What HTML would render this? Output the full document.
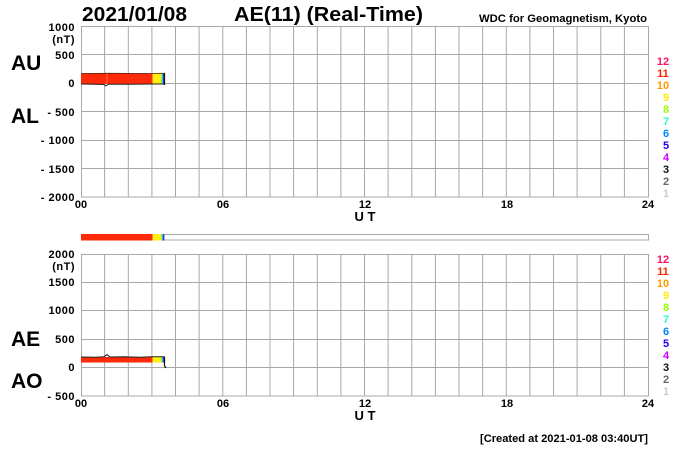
<!DOCTYPE html>
<html><head><meta charset="utf-8"><style>
html,body{margin:0;padding:0;background:#fff;}
svg{display:block;}
text{font-family:"Liberation Sans",Arial,sans-serif;}
</style></head><body>
<svg width="700" height="450" viewBox="0 0 700 450" xmlns="http://www.w3.org/2000/svg">
<rect width="700" height="450" fill="#fff"/>
<!-- Titles -->
<text x="82" y="21" font-size="20" font-weight="bold" textLength="105" lengthAdjust="spacingAndGlyphs">2021/01/08</text>
<text x="234" y="21" font-size="20" font-weight="bold" textLength="189" lengthAdjust="spacingAndGlyphs">AE(11) (Real-Time)</text>
<text x="479" y="22" font-size="11" font-weight="bold" textLength="168" lengthAdjust="spacingAndGlyphs">WDC for Geomagnetism, Kyoto</text>

<!-- TOP CHART grid -->
<g stroke="#a8a8a8" stroke-width="1" fill="none">
<path d="M104.6 26V197M128.3 26V197M151.9 26V197M175.5 26V197M199.1 26V197M222.8 26V197M246.4 26V197M270 26V197M293.6 26V197M317.3 26V197M340.9 26V197M364.5 26V197M388.1 26V197M411.8 26V197M435.4 26V197M459 26V197M482.6 26V197M506.3 26V197M529.9 26V197M553.5 26V197M577.1 26V197M600.8 26V197M624.4 26V197"/>
<path d="M81 54.5H648M81 83.5H648M81 111.5H648M81 140.5H648M81 168.5H648"/>
<rect x="81.5" y="26.5" width="567" height="170.5"/>
</g>
<!-- top data -->
<rect x="81" y="73.5" width="71.5" height="10.5" fill="#ff2a0a"/>
<rect x="152.5" y="73.5" width="9" height="10.5" fill="#ffee11"/>
<rect x="161.5" y="73.5" width="1.3" height="10.5" fill="#22ddaa"/>
<rect x="162.8" y="73.5" width="1.4" height="10.5" fill="#1144ee"/>
<path d="M81 84 L95 84.3 L104 84.5 L106 86 L108 84.3 L130 84.3 L152 84 L164 84" stroke="#222" stroke-width="1" fill="none"/>
<path d="M81 73.5 L110 73.3 L152 73.5 L164 73.3" stroke="#552211" stroke-width="0.8" fill="none"/>
<path d="M164.5 73 V85" stroke="#111" stroke-width="1.2"/>
<line x1="107" y1="74" x2="107" y2="84" stroke="#ff8844" stroke-width="0.8"/>

<!-- top y labels -->
<g font-size="11" font-weight="bold" text-anchor="end" fill="#000" letter-spacing="0.5">
<text x="75" y="31">1000</text>
<text x="75" y="43">(nT)</text>
<text x="75" y="59">500</text>
<text x="75" y="87">0</text>
<text x="75" y="116">- 500</text>
<text x="75" y="144">- 1000</text>
<text x="75" y="173">- 1500</text>
<text x="75" y="201">- 2000</text>
</g>
<g font-size="21" font-weight="bold" fill="#000">
<text x="11" y="70">AU</text>
<text x="11" y="123">AL</text>
</g>
<!-- top x labels -->
<g font-size="11" font-weight="bold" text-anchor="middle" fill="#000">
<text x="81" y="208">00</text>
<text x="223" y="208">06</text>
<text x="365" y="208">12</text>
<text x="507" y="208">18</text>
<text x="648" y="208">24</text>
<text x="365" y="221" font-size="13">U T</text>
</g>
<!-- top legend -->
<g font-size="11" font-weight="bold" text-anchor="middle">
<text x="663" y="65" fill="#ff1166">12</text>
<text x="663" y="77" fill="#ff2200">11</text>
<text x="663" y="89" fill="#ff9900">10</text>
<text x="666" y="101" fill="#ffee00">9</text>
<text x="666" y="113" fill="#99ff00">8</text>
<text x="666" y="125" fill="#22ffcc">7</text>
<text x="666" y="137" fill="#0088ff">6</text>
<text x="666" y="149" fill="#2200ee">5</text>
<text x="666" y="161" fill="#cc00ff">4</text>
<text x="666" y="173" fill="#111">3</text>
<text x="666" y="185" fill="#666">2</text>
<text x="666" y="197" fill="#ccc">1</text>
</g>

<!-- strip -->
<rect x="81.5" y="234.5" width="567" height="5.5" fill="#fff" stroke="#a8a8a8" stroke-width="1"/>
<rect x="81" y="234" width="71.5" height="6.5" fill="#ff2a0a"/>
<rect x="152.5" y="234" width="9" height="6.5" fill="#ffee11"/>
<rect x="161.5" y="234" width="1.3" height="6.5" fill="#22ddaa"/>
<rect x="162.8" y="234" width="1.6" height="6.5" fill="#1144ee"/>

<!-- BOTTOM CHART grid -->
<g stroke="#a8a8a8" stroke-width="1" fill="none">
<path d="M104.6 254V396M128.3 254V396M151.9 254V396M175.5 254V396M199.1 254V396M222.8 254V396M246.4 254V396M270 254V396M293.6 254V396M317.3 254V396M340.9 254V396M364.5 254V396M388.1 254V396M411.8 254V396M435.4 254V396M459 254V396M482.6 254V396M506.3 254V396M529.9 254V396M553.5 254V396M577.1 254V396M600.8 254V396M624.4 254V396"/>
<path d="M81 282.5H648M81 310.5H648M81 339.5H648M81 367.5H648"/>
<rect x="81.5" y="254.5" width="567" height="141.5"/>
</g>
<!-- bottom data -->
<rect x="81" y="357" width="71.5" height="5.5" fill="#ff2a0a"/>
<rect x="152.5" y="357" width="9" height="5.5" fill="#ffee11"/>
<rect x="161.5" y="357" width="1.3" height="5.5" fill="#22ddaa"/>
<rect x="162.8" y="357" width="1.4" height="5.5" fill="#1144ee"/>
<path d="M81 357 L95 357.3 L104 356.8 L107 354.5 L110 357 L125 356.8 L140 357.2 L152 356.8 L164 356.8" stroke="#222" stroke-width="1" fill="none"/>
<path d="M164.5 356.5 V366 L166 368" stroke="#111" stroke-width="1.2" fill="none"/>

<!-- bottom y labels -->
<g font-size="11" font-weight="bold" text-anchor="end" fill="#000" letter-spacing="0.5">
<text x="75" y="258">2000</text>
<text x="75" y="270">(nT)</text>
<text x="75" y="286">1500</text>
<text x="75" y="314">1000</text>
<text x="75" y="343">500</text>
<text x="75" y="371">0</text>
<text x="75" y="400">- 500</text>
</g>
<g font-size="21" font-weight="bold" fill="#000">
<text x="11" y="346">AE</text>
<text x="11" y="388">AO</text>
</g>
<g font-size="11" font-weight="bold" text-anchor="middle" fill="#000">
<text x="81" y="407">00</text>
<text x="223" y="407">06</text>
<text x="365" y="407">12</text>
<text x="507" y="407">18</text>
<text x="648" y="407">24</text>
<text x="365" y="420" font-size="13">U T</text>
</g>
<!-- bottom legend -->
<g font-size="11" font-weight="bold" text-anchor="middle">
<text x="663" y="263" fill="#ff1166">12</text>
<text x="663" y="275" fill="#ff2200">11</text>
<text x="663" y="287" fill="#ff9900">10</text>
<text x="666" y="299" fill="#ffee00">9</text>
<text x="666" y="311" fill="#99ff00">8</text>
<text x="666" y="323" fill="#22ffcc">7</text>
<text x="666" y="335" fill="#0088ff">6</text>
<text x="666" y="347" fill="#2200ee">5</text>
<text x="666" y="359" fill="#cc00ff">4</text>
<text x="666" y="371" fill="#111">3</text>
<text x="666" y="383" fill="#666">2</text>
<text x="666" y="395" fill="#ccc">1</text>
</g>

<text x="480" y="442" font-size="11" font-weight="bold" textLength="168" lengthAdjust="spacingAndGlyphs" fill="#000">[Created at 2021-01-08 03:40UT]</text>
</svg>
</body></html>
